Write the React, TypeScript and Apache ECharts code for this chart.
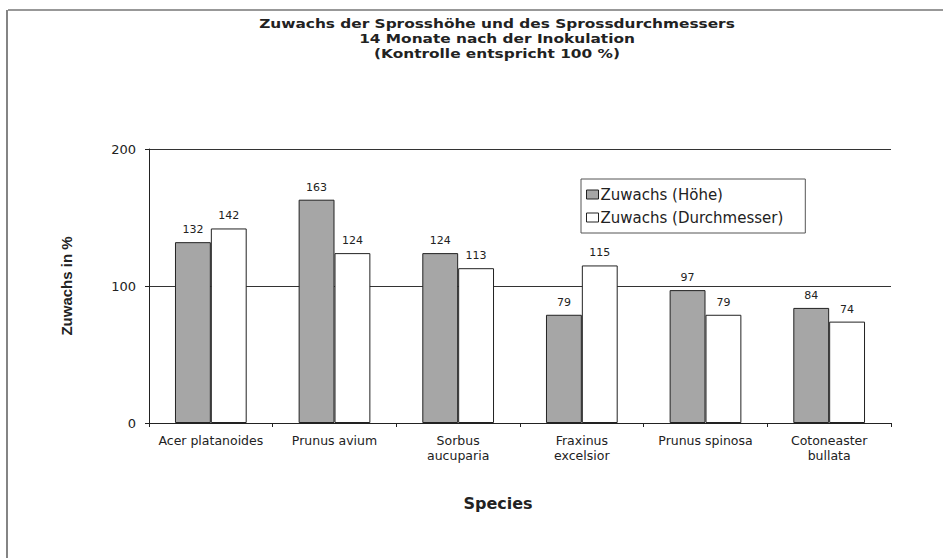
import React, { useEffect, useRef } from "react";
import * as echarts from "echarts";

const categories = [
  "Acer platanoides",
  "Prunus avium",
  "Sorbus\naucuparia",
  "Fraxinus\nexcelsior",
  "Prunus spinosa",
  "Cotoneaster\nbullata",
];
const hoeheValues = [132, 163, 124, 79, 97, 84];
const durchmesserValues = [142, 124, 113, 115, 79, 74];
const seriesNames = ["Zuwachs (Höhe)", "Zuwachs (Durchmesser)"];
const titleLines = [
  "Zuwachs der Sprosshöhe und des Sprossdurchmessers",
  "14 Monate nach der Inokulation",
  "(Kontrolle entspricht 100 %)",
];

const SPACED = "DejaVu Sans";

export default function App() {
  const ref = useRef<HTMLDivElement>(null);
  useEffect(() => {
    document.body.style.margin = "0";
    if (!ref.current) return;
    const chart = echarts.init(ref.current, undefined, { renderer: "svg" });
    const labelCommon = {
      show: true,
      position: "top" as const,
      distance: 7,
      fontFamily: SPACED,
      fontSize: 11,
      color: "#222",
    };
    chart.setOption({
      animation: false,
      backgroundColor: "#fff",
      legend: {
        orient: "vertical",
        left: 581,
        top: 179,
        padding: [8, 22, 8, 5],
        itemGap: 8,
        itemWidth: 12,
        itemHeight: 9,
        itemStyle: { borderColor: "#222", borderWidth: 1 },
        borderColor: "#555",
        borderWidth: 1,
        icon: "rect",
        textStyle: { fontFamily: SPACED, fontSize: 15, color: "#222", padding: [0, 0, 0, -3] },
        data: seriesNames,
      },
      grid: { left: 149, right: 52, top: 149, bottom: 135 },
      xAxis: {
        type: "category",
        data: categories,
        name: "Species",
        nameLocation: "middle",
        nameGap: 72,
        nameTextStyle: {
          fontFamily: SPACED,
          fontWeight: "bold",
          fontSize: 16,
          color: "#222",
          padding: [0, 44, 0, 0],
        },
        axisLine: { lineStyle: { color: "#222", width: 1 } },
        axisTick: { show: true, length: 4, lineStyle: { color: "#222" } },
        axisLabel: {
          fontFamily: SPACED,
          fontSize: 12.5,
          color: "#222",
          lineHeight: 15,
          margin: 10,
          interval: 0,
        },
      },
      yAxis: {
        type: "value",
        min: 0,
        max: 200,
        interval: 100,
        name: "Zuwachs in %",
        nameLocation: "middle",
        nameGap: 75,
        nameTextStyle: { fontFamily: "Liberation Sans", fontWeight: "bold", fontSize: 15, color: "#222" },
        axisLine: { show: true, lineStyle: { color: "#222", width: 1 } },
        axisTick: { show: true, length: 4, lineStyle: { color: "#222" } },
        axisLabel: { fontFamily: SPACED, fontSize: 13, color: "#222", margin: 13 },
        splitLine: { show: true, lineStyle: { color: "#333", width: 1 } },
      },
      graphic: [
        { type: "line", shape: { x1: 8, y1: 10, x2: 943, y2: 10 }, style: { stroke: "#333", lineWidth: 1.2 } },
        { type: "line", shape: { x1: 7, y1: 10, x2: 7, y2: 558 }, style: { stroke: "#333", lineWidth: 1.2 } },
        {
          type: "text",
          x: 497,
          y: 16,
          scaleX: 1.28,
          style: {
            text: titleLines.join("\n"),
            textAlign: "center",
            textVerticalAlign: "top",
            fontFamily: SPACED,
            fontWeight: "bold",
            fontSize: 12,
            lineHeight: 15,
            fill: "#222",
          },
        },
      ],
      series: [
        {
          name: seriesNames[0],
          type: "bar",
          data: hoeheValues,
          barGap: "0%",
          barCategoryGap: "42%",
          itemStyle: { color: "#a6a6a6", borderColor: "#222", borderWidth: 1 },
          label: labelCommon,
        },
        {
          name: seriesNames[1],
          type: "bar",
          data: durchmesserValues,
          barGap: "0%",
          barCategoryGap: "42%",
          itemStyle: { color: "#ffffff", borderColor: "#222", borderWidth: 1 },
          label: labelCommon,
        },
      ],
    });
    return () => chart.dispose();
  }, []);
  return <div ref={ref} style={{ width: 943, height: 558 }} />;
}
